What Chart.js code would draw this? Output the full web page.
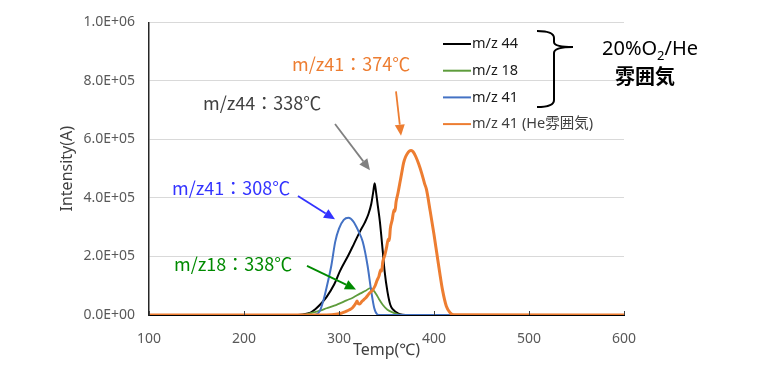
<!DOCTYPE html>
<html>
<head>
<meta charset="utf-8">
<script src="https://cdn.jsdelivr.net/npm/chart.js@4.4.1/dist/chart.umd.min.js"></script>
<style>html,body{margin:0;padding:0;background:#fff}</style>
</head>
<body>
<canvas id="tpdChart" width="757" height="369"></canvas>
<script>
// data (Temp in degC, intensity in A)
const temps44 = [100, 250, 262, 270, 275, 280, 287, 295, 301, 310, 316, 322, 327, 331, 334, 336, 337.5, 339, 341, 343, 346, 348, 351, 354, 357, 360, 364, 370, 600];
const mz44 = [0, 0, 2e3, 8e3, 2e4, 3.5e4, 6.2e4, 1.05e5, 1.5e5, 2.05e5, 2.45e5, 2.85e5, 3.15e5, 3.45e5, 3.8e5, 4.2e5, 4.5e5, 4.2e5, 3.7e5, 3.2e5, 2.2e5, 1.5e5, 8e4, 3.5e4, 1.8e4, 1e4, 3e3, 0, 0];

const temps18 = [100, 262, 270, 280, 287, 295, 308, 315, 322, 328, 333, 336, 339, 342, 346, 351, 357, 362, 370, 600];
const mz18 = [0, 0, 6e3, 1.5e4, 2.3e4, 3.2e4, 5e4, 6e4, 7.3e4, 8.3e4, 9.2e4, 8.5e4, 7.2e4, 5.5e4, 3.5e4, 1.8e4, 8e3, 2e3, 0, 0];

const temps41 = [100, 270, 275, 280, 284, 287, 292, 296, 300, 305, 310, 315, 320, 325, 330, 334, 337, 340, 343, 600];
const mz41 = [0, 0, 1e3, 1.5e4, 5.5e4, 9.5e4, 1.7e5, 2.5e5, 2.95e5, 3.25e5, 3.32e5, 3.2e5, 2.9e5, 2.5e5, 1.7e5, 8e4, 2.5e4, 3e3, 0, 0];

const temps41He = [100, 280, 292, 300, 304, 308, 311, 314, 316, 318, 319, 320, 322, 324, 326, 328, 330, 332, 334, 336, 338, 340, 342, 344, 345, 346, 348, 350, 352, 353, 354, 356, 358, 359, 360, 362, 364, 366, 368, 370, 372, 374, 376, 378, 381, 384, 387, 390, 392, 396, 400, 403, 406, 409, 413, 417, 421, 600];
const mz41He = [0, 0, 1e3, 4e3, 8e3, 1.3e4, 1.8e4, 2.4e4, 3.2e4, 4.2e4, 4.8e4, 4e4, 3.8e4, 4.6e4, 5.2e4, 5.8e4, 6.6e4, 7.4e4, 8e4, 8.8e4, 1e5, 1.18e5, 1.32e5, 1.55e5, 1.5e5, 1.8e5, 2.02e5, 2.3e5, 2.6e5, 2.55e5, 2.95e5, 3.25e5, 3.6e5, 3.55e5, 3.85e5, 4.15e5, 4.5e5, 4.85e5, 5.2e5, 5.4e5, 5.52e5, 5.6e5, 5.62e5, 5.58e5, 5.4e5, 5.15e5, 4.85e5, 4.5e5, 4.3e5, 3.55e5, 2.75e5, 2.1e5, 1.45e5, 8.5e4, 3e4, 8e3, 1e3, 0];

const seriesLabels = ["m/z 44", "m/z 18", "m/z 41", "m/z 41 (He雰囲気)"];
const seriesColors = ["#000000", "#5e9c3c", "#4472c4", "#ed7d31"];
const yTickLabels = ["0.0E+00", "2.0E+05", "4.0E+05", "6.0E+05", "8.0E+05", "1.0E+06"];

// peak notes: text, colour, text pos, arrow start, arrow end (data units)
const notes = [
  { text: "m/z41：374℃", color: "#ed7d31", arrow: "#ed7d31", pos: [250.5, 8.59e5], from: [360, 7.64e5], to: [365.3, 6.13e5] },
  { text: "m/z44：338℃", color: "#404040", arrow: "#808080", pos: [156.8, 7.24e5], from: [295.8, 6.53e5], to: [332.6, 4.95e5] },
  { text: "m/z41：308℃", color: "#3333ff", arrow: "#3333ff", pos: [124.2, 4.34e5], from: [256.8, 4.07e5], to: [295.8, 3.27e5] },
  { text: "m/z18：338℃", color: "#008a00", arrow: "#008a00", pos: [126.3, 1.75e5], from: [266.3, 1.68e5], to: [317.9, 0.875e5] }
];

const FONT = "'Noto Sans', 'Noto Sans CJK JP', sans-serif";
const JP = "'Noto Sans CJK JP', 'Noto Sans', sans-serif";

function toPoints(xs, ys) {
  return xs.map((t, i) => ({ x: t, y: ys[i] }));
}

function arrow(ctx, x1, y1, x2, y2, color) {
  const a = Math.atan2(y2 - y1, x2 - x1);
  const hl = 11, hw = 5;
  ctx.save();
  ctx.strokeStyle = color;
  ctx.fillStyle = color;
  ctx.lineWidth = 1.8;
  ctx.beginPath();
  ctx.moveTo(x1, y1);
  ctx.lineTo(x2 - hl * Math.cos(a), y2 - hl * Math.sin(a));
  ctx.stroke();
  ctx.beginPath();
  ctx.moveTo(x2, y2);
  ctx.lineTo(x2 - hl * Math.cos(a) + hw * Math.sin(a), y2 - hl * Math.sin(a) - hw * Math.cos(a));
  ctx.lineTo(x2 - hl * Math.cos(a) - hw * Math.sin(a), y2 - hl * Math.sin(a) + hw * Math.cos(a));
  ctx.closePath();
  ctx.fill();
  ctx.restore();
}

// legend, brace, notes and inside x ticks
const extrasPlugin = {
  id: "extras",
  afterDraw(chart) {
    const ctx = chart.ctx;
    const xs = chart.scales.x, ys = chart.scales.y;
    const area = chart.chartArea;

    // small tick marks on the x axis, pointing up
    ctx.save();
    ctx.strokeStyle = "#404040";
    ctx.lineWidth = 1;
    xs.ticks.forEach(t => {
      const px = Math.round(xs.getPixelForValue(t.value)) + 0.5;
      ctx.beginPath();
      ctx.moveTo(px, area.bottom);
      ctx.lineTo(px, area.bottom - 4);
      ctx.stroke();
    });
    ctx.restore();

    // notes
    notes.forEach(n => {
      ctx.save();
      ctx.font = "18px " + JP;
      ctx.fillStyle = n.color;
      ctx.textBaseline = "middle";
      ctx.textAlign = "left";
      ctx.fillText(n.text, xs.getPixelForValue(n.pos[0]), ys.getPixelForValue(n.pos[1]));
      ctx.restore();
      arrow(ctx, xs.getPixelForValue(n.from[0]), ys.getPixelForValue(n.from[1]),
        xs.getPixelForValue(n.to[0]), ys.getPixelForValue(n.to[1]), n.arrow);
    });

    // legend
    ctx.save();
    ctx.font = "14.5px " + FONT;
    ctx.textBaseline = "middle";
    chart.data.datasets.forEach((ds, i) => {
      const y = 44 + i * 26.7;
      ctx.strokeStyle = ds.borderColor;
      ctx.lineWidth = 2;
      ctx.beginPath();
      ctx.moveTo(443, y);
      ctx.lineTo(471, y);
      ctx.stroke();
      ctx.fillStyle = i === 3 ? "#404040" : "#1a1a1a";
      ctx.fillText(ds.label, 472, y);
    });
    ctx.restore();

    // brace
    ctx.save();
    ctx.strokeStyle = "#000";
    ctx.lineWidth = 2;
    ctx.beginPath();
    ctx.moveTo(537, 31);
    ctx.quadraticCurveTo(554, 31, 554, 38);
    ctx.lineTo(554, 42);
    ctx.quadraticCurveTo(554, 47, 573, 47);
    ctx.moveTo(573, 47);
    ctx.quadraticCurveTo(554, 47, 554, 53);
    ctx.lineTo(554, 100);
    ctx.quadraticCurveTo(554, 107, 537, 107);
    ctx.stroke();

    ctx.fillStyle = "#000";
    ctx.textBaseline = "middle";
    ctx.font = "20px " + FONT;
    let x = 602;
    ctx.fillText("20%O", x, 49);
    x += ctx.measureText("20%O").width;
    ctx.font = "13px " + FONT;
    ctx.fillText("2", x, 56);
    x += ctx.measureText("2").width;
    ctx.font = "20px " + FONT;
    ctx.fillText("/He", x, 49);
    ctx.font = "bold 20px " + JP;
    ctx.fillText("雰囲気", 615, 76);
    ctx.restore();
  }
};

const ctx = document.getElementById("tpdChart").getContext("2d");

const chart = new Chart(ctx, {
  type: "line",
  data: {
    datasets: [
      { label: seriesLabels[0], data: toPoints(temps44, mz44), borderColor: seriesColors[0], borderWidth: 2, order: 3 },
      { label: seriesLabels[1], data: toPoints(temps18, mz18), borderColor: seriesColors[1], borderWidth: 1.8, order: 2 },
      { label: seriesLabels[2], data: toPoints(temps41, mz41), borderColor: seriesColors[2], borderWidth: 2, order: 1 },
      { label: seriesLabels[3], data: toPoints(temps41He, mz41He), borderColor: seriesColors[3], borderWidth: 3, order: 0 }
    ]
  },
  options: {
    responsive: false,
    animation: false,
    elements: {
      point: { radius: 0 },
      line: { cubicInterpolationMode: "monotone", fill: false }
    },
    layout: { padding: { left: 0, right: 133, top: 18, bottom: 0 } },
    plugins: {
      legend: { display: false },
      tooltip: { enabled: false }
    },
    scales: {
      x: {
        type: "linear",
        min: 100,
        max: 600,
        ticks: { stepSize: 100, color: "#595959", font: { family: FONT, size: 14 }, padding: 8 },
        grid: { display: false },
        border: { display: true, color: "#000", width: 1 },
        title: { display: true, text: "Temp(℃)", color: "#404040", font: { family: FONT, size: 16 }, padding: { top: 0, bottom: 9 } },
        afterFit: s => { s.height = 54; }
      },
      y: {
        min: 0,
        max: 1e6,
        ticks: { stepSize: 2e5, color: "#595959", font: { family: FONT, size: 14 }, padding: 14, callback: (v, i) => yTickLabels[i] },
        grid: { color: "#d9d9d9", drawTicks: false },
        border: { display: true, color: "#262626", width: 1.5 },
        title: { display: true, text: "Intensity(A)", color: "#404040", font: { family: FONT, size: 16 }, padding: { top: 58, bottom: 0 } },
        afterFit: s => { s.width = 149; }
      }
    }
  },
  plugins: [extrasPlugin]
});
</script>
</body>
</html>
